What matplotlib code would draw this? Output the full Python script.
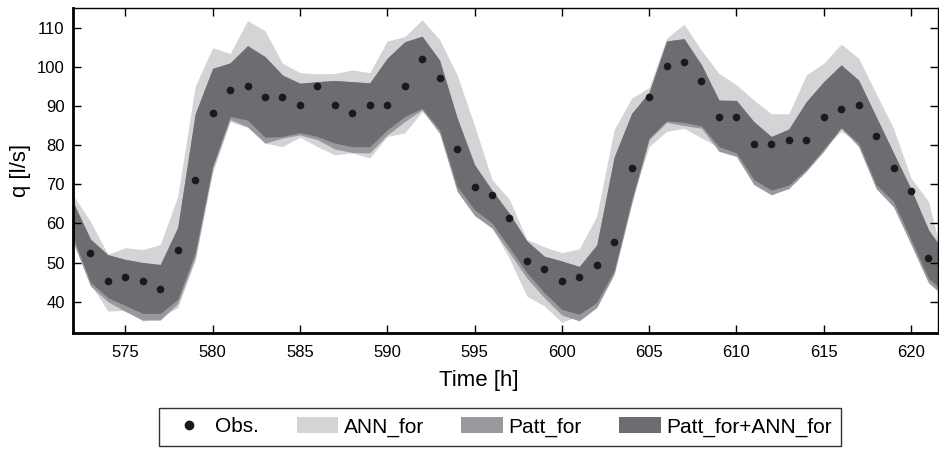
import numpy as np
import matplotlib
matplotlib.use("Agg")
import matplotlib.pyplot as plt
from matplotlib.patches import Patch
from matplotlib.lines import Line2D

plt.rcParams['font.family'] = ['Liberation Sans', 'DejaVu Sans']

# hours of the forecast window
hours = np.arange(572, 623)

# observed flow (one value per hour, 573..621)
obs_hours = np.arange(573, 622)
obs = [52.4, 45.4, 46.3, 45.4, 43.3, 53.3, 71.2, 88.2, 94.1, 95.1,
       92.2, 92.2, 90.2, 95.2, 90.2, 88.1, 90.2, 90.2, 95.2, 102.1,
       97.1, 79.1, 69.2, 67.3, 61.3, 50.3, 48.3, 45.4, 46.3, 49.3,
       55.3, 74.2, 92.2, 100.3, 101.2, 96.3, 87.3, 87.3, 80.2, 80.2,
       81.3, 81.3, 87.3, 89.2, 90.2, 82.3, 74.2, 68.3, 51.2]

# ANN_for band
ann_up = [67.3, 60.5, 52.1, 53.8, 53.3, 54.6, 66.9, 95.0, 104.9, 103.4,
          111.8, 109.2, 100.9, 98.5, 98.2, 98.3, 99.2, 98.5, 106.6, 107.7,
          112.0, 107.0, 98.0, 85.0, 71.2, 66.1, 55.9, 54.0, 52.5, 53.5,
          61.8, 84.0, 92.0, 94.7, 107.3, 110.9, 104.2, 98.3, 95.4, 91.5,
          88.0, 88.0, 97.9, 100.9, 105.8, 102.2, 93.2, 84.3, 71.6, 65.6,
          48.0]
ann_lo = [55.0, 44.5, 37.6, 37.8, 35.0, 36.0, 38.5, 50.5, 72.9, 86.0,
          84.5, 80.5, 79.6, 82.0, 79.6, 77.5, 78.0, 76.7, 82.2, 83.1,
          88.6, 83.5, 69.0, 62.5, 59.0, 51.0, 41.4, 38.9, 34.7, 36.4,
          38.5, 48.0, 66.0, 79.6, 83.5, 84.3, 81.8, 79.5, 78.0, 71.0,
          68.5, 69.8, 73.8, 79.0, 83.5, 80.5, 69.9, 65.6, 55.9, 46.0,
          42.5]

# Patt_for+ANN_for band
comb_up = [65.5, 56.0, 52.0, 50.8, 50.0, 49.5, 59.0, 88.0, 99.6, 101.0,
           105.4, 102.6, 97.9, 95.8, 96.2, 96.5, 96.2, 95.9, 102.2, 106.4,
           107.8, 101.7, 87.0, 75.0, 68.5, 62.5, 55.5, 51.6, 50.4, 49.0,
           54.5, 77.0, 88.1, 93.5, 106.6, 107.2, 100.5, 91.5, 91.4, 86.0,
           82.2, 84.1, 91.1, 96.2, 100.5, 96.6, 87.3, 78.0, 68.8, 58.4,
           52.0]
comb_lo = [56.5, 45.0, 41.0, 39.0, 37.0, 37.0, 40.6, 52.5, 74.6, 87.3,
           86.4, 82.0, 82.2, 83.2, 82.2, 80.5, 79.6, 79.6, 83.9, 87.3,
           89.4, 83.9, 69.5, 63.5, 60.1, 53.8, 47.4, 42.3, 38.0, 36.8,
           39.8, 48.0, 66.1, 81.8, 86.2, 85.8, 84.9, 79.6, 78.0, 71.2,
           68.5, 69.8, 73.8, 79.0, 84.4, 80.5, 69.9, 65.6, 55.9, 46.0,
           42.0]

# Patt_for band (upper edge sits under the combined band)
patt_up = comb_up
patt_lo = [55.5, 44.0, 40.0, 37.5, 35.3, 35.3, 39.5, 51.2, 74.0, 86.5,
           84.7, 80.5, 81.8, 82.6, 81.4, 79.0, 78.1, 78.0, 82.6, 86.0,
           89.0, 83.0, 68.2, 62.0, 58.8, 52.5, 46.0, 41.0, 36.6, 35.1,
           38.5, 47.0, 65.0, 81.4, 85.8, 85.0, 84.3, 78.4, 77.1, 69.9,
           67.3, 68.9, 73.3, 78.4, 84.4, 79.6, 68.9, 64.2, 54.6, 44.8,
           41.0]

c_ann = '#d3d4d6'
c_patt = '#98999c'
c_comb = '#6c6d71'

fig = plt.figure(figsize=(9.39, 4.49), dpi=100)
ax = fig.add_axes([0.0777, 0.2584, 0.9213, 0.7236])

ax.fill_between(hours, ann_lo, ann_up, color=c_ann, lw=0)
ax.fill_between(hours, patt_lo, patt_up, color=c_patt, lw=0)
ax.fill_between(hours, comb_lo, comb_up, color=c_comb, lw=0)
ax.plot(obs_hours, obs, 'o', ms=4.5, color='#1a1a1a', zorder=5)

ax.set_xlim(572, 621.55)
ax.set_ylim(32, 115)
ax.set_xticks(np.arange(575, 621, 5))
ax.set_yticks(np.arange(40, 111, 10))
ax.tick_params(direction='in', top=True, right=True, length=6, width=1,
               labelsize=12)
ax.tick_params(axis='x', pad=9)
ax.tick_params(axis='y', pad=6)

for side in ['left', 'bottom']:
    ax.spines[side].set_linewidth(2)
for side in ['top', 'right']:
    ax.spines[side].set_linewidth(1)

ax.set_xlabel('Time [h]', fontsize=16)
ax.set_ylabel('q [l/s]', fontsize=16)
ax.xaxis.set_label_coords(0.469, -0.115)
ax.yaxis.set_label_coords(-0.048, 0.5)

handles = [
    Line2D([], [], marker='o', ls='none', ms=6, color='#1a1a1a'),
    Patch(facecolor=c_ann, edgecolor='none'),
    Patch(facecolor=c_patt, edgecolor='none'),
    Patch(facecolor=c_comb, edgecolor='none'),
]
labels = ['Obs.', 'ANN_for', 'Patt_for', 'Patt_for+ANN_for']
leg = fig.legend(handles, labels, loc='center', ncol=4,
                 bbox_to_anchor=(0.5325, 0.049), fontsize=15,
                 frameon=True, fancybox=False, edgecolor='black',
                 handlelength=2.0, handleheight=0.75, handletextpad=0.25,
                 columnspacing=1.8, borderpad=0.45)
leg.get_frame().set_linewidth(1)

fig.savefig('out.png', dpi=100)
